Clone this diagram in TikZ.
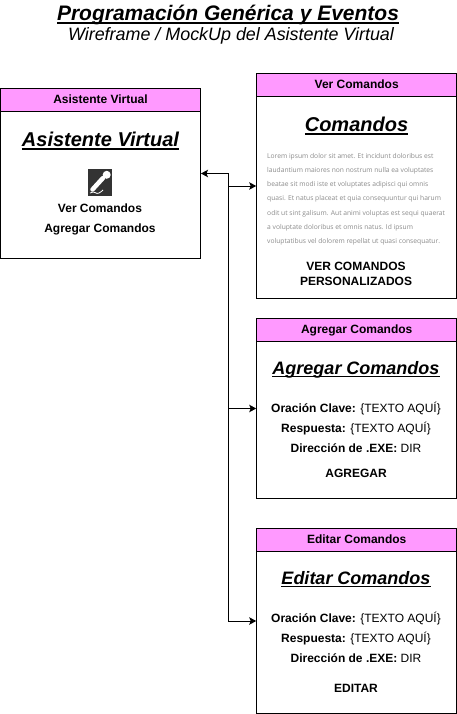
\documentclass[tikz,border=0pt]{standalone}
\usepackage{fontspec}
\usetikzlibrary{arrows.meta}
\setmainfont{Liberation Sans}
\newfontfamily\loremfont{Open Sans}
\definecolor{cabecera}{HTML}{FF99FF}
\definecolor{oscuro}{HTML}{333333}
\definecolor{lorem}{HTML}{8C8C8C}
\newsavebox{\cajaraya}
\newcommand{\fsize}[1]{\fontsize{#1}{#1}\selectfont}
\newcommand{\rayado}[1]{\sbox{\cajaraya}{#1}\rlap{\rule[-0.16em]{\wd\cajaraya}{0.07em}}\usebox{\cajaraya}}

\begin{document}
\begin{tikzpicture}[x=1pt, y=-1pt, >={Stealth[length=7pt,width=7.5pt,inset=1.5pt]},
          ventana/.style={rectangle, draw=black, fill=white, line width=1pt, minimum width=200pt, inner sep=0pt},
          cabeza/.style={rectangle, draw=black, fill=cabecera, line width=1pt, minimum width=200pt, minimum height=23pt, inner sep=0pt, text height=10pt, text depth=3pt, font=\fsize{12}\bfseries},
          titulo/.style={anchor=base, inner sep=0pt, font=\fsize{18}\bfseries\itshape},
          campo/.style={anchor=base, inner sep=0pt, font=\fsize{12}}]

        \useasboundingbox (0,0) rectangle (457,714);

        \node[titulo, font=\fsize{21}\bfseries\itshape] (tit) at (228,20.5) {\rayado{Programación Genérica y Eventos}};
        \node[titulo, font=\fsize{17.9}\itshape]        (sub) at (231,41) {Wireframe / MockUp del Asistente Virtual};

        \node[ventana, minimum height=170pt] (asist) at (100.5,173.5) {};
        \node[cabeza]                        (casist) at (100.5,100)  {Asistente Virtual};
        \node[ventana, minimum height=225pt] (ver)   at (356.7,186)   {};
        \node[cabeza]                        (cver)  at (356.7,85)    {Ver Comandos};
        \node[ventana, minimum height=180pt] (agr)   at (356.7,408.5) {};
        \node[cabeza]                        (cagr)  at (356.7,330)   {Agregar Comandos};
        \node[ventana, minimum height=185pt] (edi)   at (356.7,621)   {};
        \node[cabeza]                        (cedi)  at (356.7,540)   {Editar Comandos};

        \coordinate (bus) at (228.5,173.5);
        \draw[<->, line width=1pt] (asist.east) -- (bus) |- (ver.west);
        \draw[->, line width=1pt] (bus) |- (agr.west);
        \draw[->, line width=1pt] (bus) |- (edi.west);

        % asistente
        \node[titulo, font=\fsize{20}\bfseries\itshape] (tasist) at (100.5,146.5) {\rayado{Asistente Virtual}};
        \node[rectangle, fill=oscuro, minimum width=24pt, minimum height=27pt, inner sep=0pt] (micro) at (100,182.5) {};
        \draw[white, line width=4.5pt, line cap=round] (92.5,189.5) -- (103,178);
        \fill[white] (106.7,174.8) circle (4pt);
        \draw[white, line width=0.8pt] (90,193) .. controls (95,190) and (96,195) .. (99,193) .. controls (101,192) and (102,191) .. (103,190);
        \node[campo, font=\fsize{12}\bfseries] (vcom) at (100,212) {Ver Comandos};
        \node[campo, font=\fsize{12}\bfseries] (acom) at (100,232) {Agregar Comandos};

        % ver comandos
        \node[titulo, font=\fsize{20}\bfseries\itshape] (tver) at (356.5,131.5) {\rayado{Comandos}};
        \node[anchor=north west, inner sep=0pt, align=left, text=lorem, font=\fontsize{6.7}{14.2}\selectfont\loremfont] (txt) at (267,153) {%
          Lorem ipsum dolor sit amet. Et incidunt doloribus est\\
          laudantium maiores non nostrum nulla ea voluptates\\
          beatae sit modi iste et voluptates adipisci qui omnis\\
          quasi. Et natus placeat et quia consequuntur qui harum\\
          odit ut sint galisum. Aut animi voluptas est sequi quaerat\\
          a voluptate doloribus et omnis natus. Id ipsum\\
          voluptatibus vel dolorem repellat ut quasi consequatur.};
        \node[campo, font=\fsize{12}\bfseries] (bver1) at (356,270) {VER COMANDOS};
        \node[campo, font=\fsize{12}\bfseries] (bver2) at (356,285) {PERSONALIZADOS};

        % agregar comandos
        \node[titulo] (tagr) at (356,374) {\rayado{Agregar Comandos}};
        \node[campo] (a1) at (356,412) {\textbf{Oración Clave:} \{TEXTO AQUÍ\}};
        \node[campo] (a2) at (356,432) {\textbf{Respuesta:} \{TEXTO AQUÍ\}};
        \node[campo] (a3) at (356,452) {\textbf{Dirección de .EXE:} DIR};
        \node[campo, font=\fsize{12}\bfseries] (a4) at (356,477) {AGREGAR};

        % editar comandos
        \node[titulo] (tedi) at (356,584) {\rayado{Editar Comandos}};
        \node[campo] (e1) at (356,622) {\textbf{Oración Clave:} \{TEXTO AQUÍ\}};
        \node[campo] (e2) at (356,642) {\textbf{Respuesta:} \{TEXTO AQUÍ\}};
        \node[campo] (e3) at (356,662) {\textbf{Dirección de .EXE:} DIR};
        \node[campo, font=\fsize{12}\bfseries] (e4) at (356,692) {EDITAR};

      \end{tikzpicture}
\end{document}
